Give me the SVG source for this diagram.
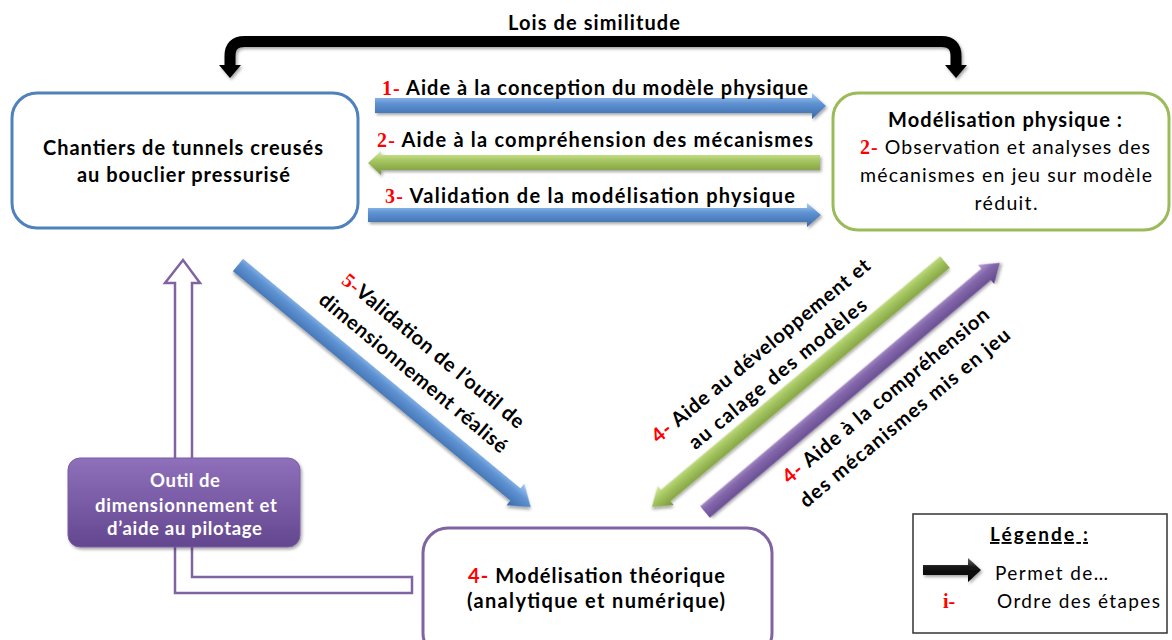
<svg xmlns="http://www.w3.org/2000/svg" width="1172" height="640" viewBox="0 0 1172 640">
<defs>
  <linearGradient id="gBlue" x1="0" y1="0" x2="0" y2="1">
    <stop offset="0" stop-color="#aacdf5"/>
    <stop offset="0.4" stop-color="#5f93d3"/>
    <stop offset="1" stop-color="#3a68a8"/>
  </linearGradient>
  <linearGradient id="gGreen" x1="0" y1="0" x2="0" y2="1">
    <stop offset="0" stop-color="#d8eda3"/>
    <stop offset="0.4" stop-color="#a5c660"/>
    <stop offset="1" stop-color="#76963a"/>
  </linearGradient>
  <linearGradient id="gPurple" x1="0" y1="0" x2="0" y2="1">
    <stop offset="0" stop-color="#bba6da"/>
    <stop offset="0.4" stop-color="#8467ab"/>
    <stop offset="1" stop-color="#5e4588"/>
  </linearGradient>
  <linearGradient id="gBlack" x1="0" y1="0" x2="0" y2="1">
    <stop offset="0" stop-color="#666"/>
    <stop offset="0.4" stop-color="#151515"/>
    <stop offset="1" stop-color="#000"/>
  </linearGradient>
  <linearGradient id="gBox" x1="0" y1="0" x2="0" y2="1">
    <stop offset="0" stop-color="#8f70bb"/>
    <stop offset="1" stop-color="#63478f"/>
  </linearGradient>
  <filter id="sh" x="-10%" y="-20%" width="130%" height="160%">
    <feDropShadow dx="1.5" dy="2" stdDeviation="1.5" flood-color="#000" flood-opacity="0.35"/>
  </filter>
</defs>
<style>
  text{font-family:Lato,"Liberation Sans",sans-serif;font-size:20px;fill:#000}
  .b{font-weight:bold}
  .r{font-weight:normal;font-size:19.5px}
  .l{font-size:20px}
  .d{font-size:20px}
  .n{font-family:"Liberation Serif",serif;font-weight:bold;fill:#f00;font-size:20px}
  .ns{fill:#f00;font-weight:bold}
  .w{fill:#fff;font-weight:bold;font-size:18.5px}
  .lg{font-size:19px}
  .box{fill:#fff;stroke-width:3}
</style>

<g id="connectors">
  <g id="lois" filter="url(#sh)">
    <path d="M230,67 V56 Q230,41.5 244.5,41.5 H941.5 Q956,41.5 956,56 V67" fill="none" stroke="#000" stroke-width="11"/>
    <polygon points="219,65 241,65 230,78" fill="#000"/>
    <polygon points="945,65 967,65 956,78" fill="#000"/>
  </g>
  <text class="b" x="594" y="30" text-anchor="middle" font-size="21" textLength="172">Lois de similitude</text>

  <polygon filter="url(#sh)" fill="url(#gBlue)" points="375,98 812,98 812,93 826,106 812,119 812,113 375,113"/>
  <text class="b l" x="382" y="95" textLength="426"><tspan class="n">1-</tspan> Aide à la conception du modèle physique</text>

  <polygon filter="url(#sh)" fill="url(#gGreen)" points="820,155 381,155 381,151 368,163 381,175 381,170 820,170"/>
  <text class="b l" x="377" y="147" textLength="436"><tspan class="n">2-</tspan> Aide à la compréhension des mécanismes</text>

  <polygon filter="url(#sh)" fill="url(#gBlue)" points="368,208 807,208 807,203 821,215 807,227 807,222 368,222"/>
  <text class="b l" x="385" y="203" textLength="410"><tspan class="n">3-</tspan> Validation de la modélisation physique</text>

  <polygon filter="url(#sh)" fill="url(#gBlue)" transform="translate(238,265) rotate(39.6)" points="0,-8 360,-8 360,-14 380,0 360,14 360,8 0,8"/>
  <text class="b d" text-anchor="middle" transform="translate(429,356) rotate(39.7)" textLength="230"><tspan class="n">5-</tspan>Validation de l’outil de</text>
  <text class="b d" text-anchor="middle" transform="translate(409,378) rotate(39.7)" textLength="238">dimensionnement réalisé</text>

  <polygon filter="url(#sh)" fill="url(#gGreen)" transform="translate(945,262) rotate(140.1) scale(1,-1)" points="0,-7.5 364,-7.5 364,-12.5 382,0 364,12.5 364,7.5 0,7.5"/>
  <text class="b d" text-anchor="middle" transform="translate(765,356) rotate(-39.5)" textLength="277"><tspan class="ns">4-</tspan> Aide au développement et</text>
  <text class="b d" text-anchor="middle" transform="translate(782,379) rotate(-39.5)" textLength="224">au calage des modèles</text>

  <polygon filter="url(#sh)" fill="url(#gPurple)" transform="translate(705,512) rotate(-40.2)" points="0,-7.5 368,-7.5 368,-12.5 386,0 368,12.5 368,7.5 0,7.5"/>
  <text class="b d" text-anchor="middle" transform="translate(890,401) rotate(-39.8)" textLength="262"><tspan class="ns">4-</tspan> Aide à la compréhension</text>
  <text class="b d" text-anchor="middle" transform="translate(909,423) rotate(-39.8)" textLength="267">des mécanismes mis en jeu</text>

  <path id="hollow" d="M412,577 H192 V283 H200 L183,260 L165,283 H175 V593 H412 Z" fill="#fff" stroke="#8064a2" stroke-width="2.5" stroke-linejoin="miter"/>
</g>

<g id="chantiers">
  <rect class="box" x="12" y="93" width="346" height="135" rx="25" stroke="#4f81bd"/>
  <text class="b" x="183" y="155" text-anchor="middle" textLength="280">Chantiers de tunnels creusés</text>
  <text class="b" x="183.5" y="182" text-anchor="middle" textLength="213">au bouclier pressurisé</text>
</g>

<g id="physique">
  <rect class="box" x="833" y="93" width="336" height="137" rx="25" stroke="#9bbb59" stroke-width="3.5"/>
  <text class="b" x="1005" y="127" text-anchor="middle" textLength="234">Modélisation physique :</text>
  <text class="r" x="1005" y="154" text-anchor="middle" textLength="290"><tspan class="n">2-</tspan> Observation et analyses des</text>
  <text class="r" x="1006" y="182" text-anchor="middle" textLength="292">mécanismes en jeu sur modèle</text>
  <text class="r" x="1006" y="210" text-anchor="middle" textLength="63">réduit.</text>
</g>

<g id="outil">
  <rect x="68" y="458" width="232" height="89" rx="12" fill="url(#gBox)" stroke="#7a5ca5" stroke-width="1" filter="url(#sh)"/>
  <text class="w" x="185" y="487" text-anchor="middle" textLength="70">Outil de</text>
  <text class="w" x="186" y="512" text-anchor="middle" textLength="182">dimensionnement et</text>
  <text class="w" x="184.5" y="535" text-anchor="middle" textLength="155">d’aide au pilotage</text>
</g>

<g id="theorique">
  <rect class="box" x="423" y="528" width="349" height="130" rx="25" stroke="#8064a2"/>
  <text class="b" x="596.5" y="583" text-anchor="middle" textLength="257"><tspan class="ns">4-</tspan> Modélisation théorique</text>
  <text class="b" x="596" y="608" text-anchor="middle" textLength="258">(analytique et numérique)</text>
</g>

<g id="legende">
  <rect x="913" y="514" width="254" height="119" fill="#fff" stroke="#333" stroke-width="1.5"/>
  <text class="b lg" x="990" y="541" textLength="98" text-decoration="underline">Légende :</text>
  <polygon filter="url(#sh)" fill="url(#gBlack)" points="923,565 968,565 968,558 981,570 968,582 968,575 923,575"/>
  <text class="r lg" x="995" y="580" textLength="113">Permet de…</text>
  <text class="n" x="943" y="608" font-size="18">i-</text>
  <text class="r lg" x="997" y="608" textLength="163">Ordre des étapes</text>
</g>
</svg>
